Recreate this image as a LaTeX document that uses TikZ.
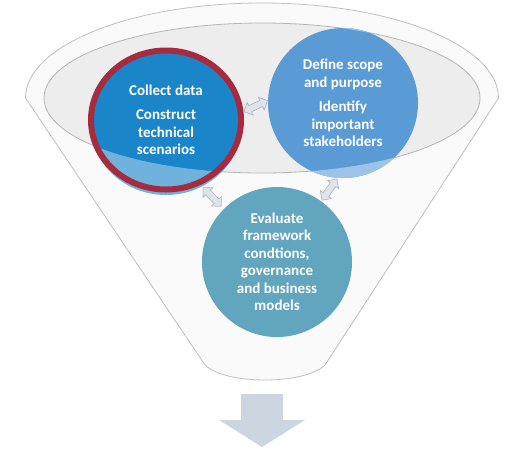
\documentclass[tikz,border=0pt]{standalone}
\usepackage{fontspec}
\setsansfont{Carlito}
\usepackage{tikz}
\usetikzlibrary{calc,shapes.geometric,shapes.arrows}

\definecolor{funnelfill}{HTML}{FAFAFA}
\definecolor{funneldraw}{HTML}{BFBFBF}
\definecolor{innerfill}{HTML}{EDEDED}
\definecolor{innerdraw}{HTML}{B5B5B5}
\definecolor{collectblue}{HTML}{1A86C9}
\definecolor{collectlight}{HTML}{6FB2DD}
\definecolor{ringred}{HTML}{A62B3E}
\definecolor{defineblue}{HTML}{5B9BD5}
\definecolor{definelight}{HTML}{9DC3E6}
\definecolor{evalteal}{HTML}{62A5BF}
\definecolor{linkfill}{HTML}{DEE4EB}
\definecolor{linkdraw}{HTML}{B0B9C3}
\definecolor{downfill}{HTML}{CCD6E0}

\begin{document}
\begin{tikzpicture}[x=1pt,y=-1pt,
    bubble/.style={circle, minimum size=150pt, inner sep=0pt, text=white,
        font=\sffamily\bfseries\fontsize{15}{17.5}\selectfont, align=center},
    lighten/.style={path picture={\fill[#1, even odd rule]
        (path picture bounding box.south west) rectangle (path picture bounding box.north east)
        (M) ellipse [x radius=218pt, y radius=75pt];}},
    link/.style={double arrow, draw=linkdraw, fill=linkfill, line width=0.7pt,
        minimum height=26pt, inner xsep=0pt, inner ysep=3pt,
        double arrow head extend=3.5pt, outer sep=0pt}]
    \useasboundingbox (0,0) rectangle (513,451);
    \coordinate (M) at (262,98);
    \coordinate (C) at (166,120);
    \coordinate (D) at (343,103);
    \coordinate (E) at (277,262);

    % funnel
    \draw[fill=funnelfill, draw=funneldraw, line width=0.8pt] (25.5,98)
        arc[start angle=180, end angle=360, x radius=236.5, y radius=95]
        -- (325,365) .. controls (305,385) and (225,385) .. (205,365) -- cycle;
    \draw[fill=innerfill, draw=innerdraw, line width=0.8pt] (M) ellipse [x radius=218, y radius=75];

    % bubbles
    \fill[collectlight] ($(C)+(0,3)$) ellipse [x radius=76, y radius=72];
    \node[bubble, ellipse, minimum width=150pt, minimum height=139pt, fill=collectblue,
        lighten=collectlight, draw=ringred, line width=6pt] (collect) at (C)
        {Collect data\\[7pt]Construct\\technical\\scenarios};
    \node[bubble, fill=defineblue, lighten=definelight] (define) at (D)
        {Define scope\\and purpose\\[7pt]Identify\\important\\stakeholders};
    \node[bubble, fill=evalteal] (evaluate) at (E)
        {Evaluate\\framework\\condtions,\\governance\\and business\\models};

    % links
    \path (collect.6) -- node[link, sloped] {} (define.178);
    \path (collect.-62) -- node[link, sloped] {} (evaluate.135);
    \path (define.266) -- node[link, sloped] {} (evaluate.54);

    % output arrow
    \fill[downfill] (241,394) -- (283,394) -- (283,420) -- (305,420) -- (262,447)
        -- (219,420) -- (241,420) -- cycle;
\end{tikzpicture}
\end{document}
